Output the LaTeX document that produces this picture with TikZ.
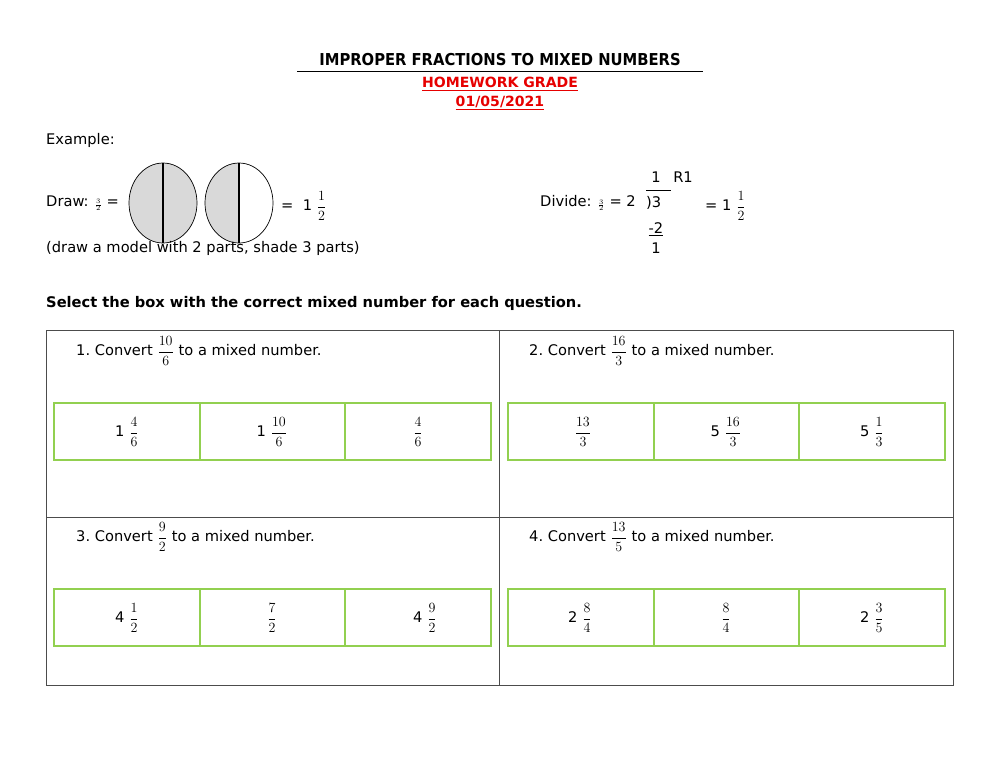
\documentclass[tikz,border=0pt]{standalone}
\usepackage{fontspec}
\setmainfont{DejaVu Sans}
\newfontfamily\titlefont{DejaVu Sans Condensed}
\definecolor{gbox}{RGB}{146,208,80}
\definecolor{greyfill}{RGB}{217,217,217}
\definecolor{redt}{RGB}{230,0,0}
\newcommand{\fr}[2]{$\displaystyle\frac{#1}{#2}$}
\begin{document}
\begin{tikzpicture}[x=0.03cm,y=-0.03cm,
  txt/.style={inner sep=0pt,anchor=west,font=\fontsize{12.5}{14}\selectfont},
  ctxt/.style={inner sep=0pt,font=\fontsize{12.5}{14}\selectfont},
  gb/.style={draw=gbox,line width=1.8pt},
  cell/.style={draw=black!70,line width=0.5pt}]
\useasboundingbox (0,0) rectangle (1000,772);
\node[inner sep=0pt,font=\titlefont\bfseries\fontsize{14}{16}\selectfont] (title) at (500,60) {IMPROPER FRACTIONS TO MIXED NUMBERS};
\draw[line width=0.6pt] (297,71) -- (703,71);
\node[ctxt,font=\bfseries\fontsize{12}{14}\selectfont,text=redt] (hw) at (500,84) {\underline{HOMEWORK GRADE}};
\node[ctxt,font=\bfseries\fontsize{12}{14}\selectfont,text=redt] (dt) at (500,103) {\underline{01/05/2021}};
\node[txt] (ex) at (46,140) {Example:};
\node[txt] (draw) at (46,203) {Draw: $\scriptscriptstyle\frac{3}{2}$ =};
\filldraw[fill=greyfill,draw=black,line width=0.6pt] (163,203) ellipse (34 and 40);
\draw[line width=1pt] (163,163) -- (163,243);
\fill[greyfill] (239,163) arc (-90:-270:34 and 40) -- cycle;
\draw[line width=0.6pt] (239,203) ellipse (34 and 40);
\draw[line width=1pt] (239,163) -- (239,243);
\node[txt] (eq1) at (281,206) {=\ \ 1 \fr{1}{2}};
\node[txt] (note) at (46,248) {(draw a model with 2 parts, shade 3 parts)};
\node[txt] (div) at (540,203) {Divide: $\scriptscriptstyle\frac{3}{2}$ =\ 2};
\node[txt] (dv) at (646,203) {)3};
\node[ctxt] (q) at (656,177) {1};
\node[ctxt] (r) at (683,177) {R1};
\draw[line width=0.5pt] (646,190) -- (671,190);
\node[ctxt] (m2) at (656,229) {\underline{-2}};
\node[ctxt] (rem) at (656,248) {1};
\node[txt] (eq2) at (705,206) {= 1 \fr{1}{2}};
\node[txt,font=\bfseries\fontsize{12.5}{14}\selectfont] (sel) at (46,303) {Select the box with the correct mixed number for each question.};
\draw[cell] (46,330) rectangle (953,685);
\draw[cell] (499,330) -- (499,685);
\draw[cell] (46,517) -- (953,517);
\node[txt] (q1) at (76,351) {1.\ Convert \fr{10}{6} to a mixed number.};
\node[txt] (q2) at (529,351) {2.\ Convert \fr{16}{3} to a mixed number.};
\node[txt] (q3) at (76,537) {3.\ Convert \fr{9}{2} to a mixed number.};
\node[txt] (q4) at (529,537) {4.\ Convert \fr{13}{5} to a mixed number.};
\foreach \y in {403,589}{
  \draw[gb] (54,\y) rectangle (491,\y+57);
  \draw[gb] (200,\y) -- (200,\y+57);
  \draw[gb] (345,\y) -- (345,\y+57);
  \draw[gb] (508,\y) rectangle (945,\y+57);
  \draw[gb] (654,\y) -- (654,\y+57);
  \draw[gb] (799,\y) -- (799,\y+57);
}
\node[ctxt] (a11) at (127,432) {1 \fr{4}{6}};
\node[ctxt] (a12) at (272,432) {1 \fr{10}{6}};
\node[ctxt] (a13) at (418,432) {\fr{4}{6}};
\node[ctxt] (a21) at (583,432) {\fr{13}{3}};
\node[ctxt] (a22) at (726,432) {5 \fr{16}{3}};
\node[ctxt] (a23) at (872,432) {5 \fr{1}{3}};
\node[ctxt] (a31) at (127,618) {4 \fr{1}{2}};
\node[ctxt] (a32) at (272,618) {\fr{7}{2}};
\node[ctxt] (a33) at (425,618) {4 \fr{9}{2}};
\node[ctxt] (a41) at (580,618) {2 \fr{8}{4}};
\node[ctxt] (a42) at (726,618) {\fr{8}{4}};
\node[ctxt] (a43) at (872,618) {2 \fr{3}{5}};
\end{tikzpicture}
\end{document}
